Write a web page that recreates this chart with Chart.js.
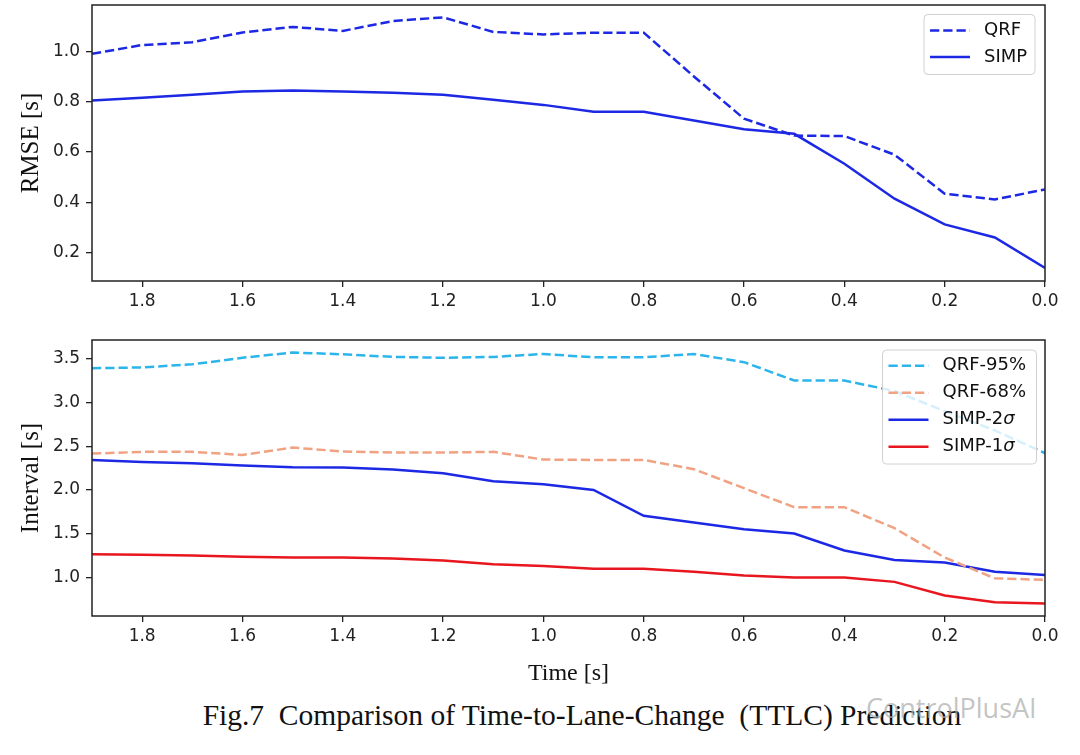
<!DOCTYPE html>
<html>
<head>
<meta charset="utf-8">
<script src="https://cdn.jsdelivr.net/npm/chart.js@4.4.1/dist/chart.umd.min.js"></script>
<style>
  body { margin: 0; background: #fff; }
  #pagina { position: relative; width: 1080px; height: 755px; background: #fff; overflow: hidden; }
  #grafico-rmse { position: absolute; left: 0; top: -12.5px; }
  #grafico-intervalo { position: absolute; left: 0; top: 320px; }
  #legenda-fig { position: absolute; left: 0; width: 1164px; top: 699px; text-align: center;
    font-family: "Liberation Serif", serif; font-size: 29.5px; color: #111; white-space: pre; }
  #marca { position: absolute; left: 866px; top: 689px; font-family: "Open Sans", sans-serif;
    font-size: 27px; color: rgba(170,170,170,0.7); }
</style>
</head>
<body>
<div id="pagina">
  <canvas id="grafico-rmse" width="1080" height="323"></canvas>
  <canvas id="grafico-intervalo" width="1080" height="368"></canvas>
  <div id="legenda-fig">Fig.7  Comparison of Time-to-Lane-Change  (TTLC) Prediction</div>
  <div id="marca">ControlPlusAI</div>
</div>
<script>
// eixo x (tempo), do maior para o menor
const tempos = [1.9, 1.8, 1.7, 1.6, 1.5, 1.4, 1.3, 1.2, 1.1, 1.0, 0.9, 0.8, 0.7, 0.6, 0.5, 0.4, 0.3, 0.2, 0.1, 0.0];
const ticksTempo = [1.8, 1.6, 1.4, 1.2, 1.0, 0.8, 0.6, 0.4, 0.2, 0.0];

// grafico de cima - RMSE
const rmseQRF = [0.99, 1.025, 1.036, 1.075, 1.097, 1.081, 1.12, 1.135, 1.077, 1.067, 1.074, 1.074, 0.90, 0.732, 0.665, 0.663, 0.589, 0.434, 0.411, 0.451];
const rmseSIMP = [0.804, 0.815, 0.827, 0.84, 0.844, 0.84, 0.835, 0.827, 0.807, 0.787, 0.76, 0.76, 0.725, 0.69, 0.672, 0.553, 0.414, 0.312, 0.26, 0.139];
const ticksRmse = [0.2, 0.4, 0.6, 0.8, 1.0];

// grafico de baixo - intervalos
const qrf95 = [3.39, 3.40, 3.435, 3.51, 3.57, 3.55, 3.52, 3.51, 3.52, 3.553, 3.515, 3.515, 3.553, 3.46, 3.25, 3.25, 3.13, 2.90, 2.68, 2.42];
const qrf68 = [2.415, 2.435, 2.435, 2.40, 2.484, 2.44, 2.427, 2.427, 2.435, 2.347, 2.343, 2.343, 2.237, 2.02, 1.803, 1.803, 1.563, 1.228, 0.99, 0.973];
const simp2 = [2.343, 2.32, 2.305, 2.278, 2.26, 2.256, 2.233, 2.19, 2.10, 2.065, 2.0, 1.704, 1.628, 1.552, 1.502, 1.308, 1.20, 1.171, 1.065, 1.027];
const simp1 = [1.266, 1.259, 1.25, 1.236, 1.228, 1.228, 1.217, 1.194, 1.152, 1.13, 1.10, 1.10, 1.065, 1.023, 1.0, 1.0, 0.95, 0.795, 0.718, 0.703];
const ticksIntervalo = [1.0, 1.5, 2.0, 2.5, 3.0, 3.5];

const AZUL = '#1c28e4';
const CIANO = '#2cb5ea';
const SALMAO = '#f0a283';
const VERMELHO = '#e8161e';
const TRACO = [9.25, 4];

function pontos(valores) {
  return valores.map((v, i) => ({ x: tempos[i], y: v }));
}

// moldura em volta da area do grafico
const moldura = {
  id: 'moldura',
  afterDatasetsDraw(chart) {
    const { ctx, chartArea: a } = chart;
    ctx.save();
    ctx.strokeStyle = '#222';
    ctx.lineWidth = 1.5;
    ctx.strokeRect(a.left, a.top, a.right - a.left, a.bottom - a.top);
    ctx.restore();
  }
};

// legenda no estilo do matplotlib
const legendaPropria = {
  id: 'legendaPropria',
  afterDatasetsDraw(chart, args, opts) {
    const { ctx, chartArea: a } = chart;
    const sets = chart.data.datasets;
    const x0 = a.right - opts.direita - opts.largura;
    const y0 = a.top + opts.topo;
    ctx.save();
    ctx.fillStyle = 'rgba(255,255,255,0.8)';
    ctx.strokeStyle = '#d0d0d0';
    ctx.lineWidth = 1;
    ctx.beginPath();
    ctx.roundRect(x0, y0, opts.largura, opts.altura, 4);
    ctx.fill();
    ctx.stroke();

    sets.forEach((ds, i) => {
      const y = y0 + opts.primeira + i * opts.passo;
      ctx.strokeStyle = ds.borderColor;
      ctx.lineWidth = ds.borderWidth;
      ctx.setLineDash(ds.borderDash || []);
      ctx.beginPath();
      ctx.moveTo(x0 + 6, y);
      ctx.lineTo(x0 + 46, y);
      ctx.stroke();
      ctx.setLineDash([]);

      ctx.fillStyle = '#111';
      ctx.textBaseline = 'middle';
      let texto = ds.label;
      let tx = x0 + 60;
      let italico = '';
      if (texto.endsWith('σ')) {
        italico = 'σ';
        texto = texto.slice(0, -1);
      }
      ctx.font = '18px "DejaVu Sans"';
      ctx.fillText(texto, tx, y);
      if (italico) {
        tx += ctx.measureText(texto).width;
        ctx.font = 'italic 18px "DejaVu Sans"';
        ctx.fillText(italico, tx, y);
      }
    });
    ctx.restore();
  }
};

function opcoesEixos(yMin, yMax, ticksY, tituloY, alturaX, tituloX) {
  const fonteTick = { family: 'DejaVu Sans', size: 17 };
  return {
    x: {
      type: 'linear',
      min: 0,
      max: 1.9,
      reverse: true,
      afterBuildTicks: s => { s.ticks = ticksTempo.map(v => ({ value: v })); },
      afterFit: s => { s.height = alturaX; },
      ticks: { color: '#222', font: fonteTick, padding: 4.5, maxRotation: 0, callback: v => v.toFixed(1) },
      grid: { drawOnChartArea: false, drawTicks: true, tickLength: 6, color: '#222', lineWidth: 1.3 },
      border: { display: false },
      title: {
        display: !!tituloX,
        text: tituloX || '',
        color: '#111',
        font: { family: 'Liberation Serif', size: 24 },
        padding: { top: 0, bottom: 0 }
      }
    },
    y: {
      type: 'linear',
      min: yMin,
      max: yMax,
      afterBuildTicks: s => { s.ticks = ticksY.map(v => ({ value: v })); },
      afterFit: s => { s.width = 92; },
      ticks: { color: '#222', font: fonteTick, padding: 6, callback: v => v.toFixed(1) },
      grid: { drawOnChartArea: false, drawTicks: true, tickLength: 6, color: '#222', lineWidth: 1.3 },
      border: { display: false },
      title: {
        display: true,
        text: tituloY,
        color: '#111',
        font: { family: 'Liberation Serif', size: 25 },
        padding: { top: 16.5, bottom: 0 }
      }
    }
  };
}

function linha(rotulo, valores, cor, tracejado) {
  return {
    label: rotulo,
    data: pontos(valores),
    borderColor: cor,
    borderWidth: 2.5,
    borderDash: tracejado ? TRACO : [],
    pointRadius: 0,
    tension: 0,
    fill: false
  };
}

function init() {
  new Chart(document.getElementById('grafico-rmse'), {
    type: 'line',
    data: {
      datasets: [
        linha('QRF', rmseQRF, AZUL, true),
        linha('SIMP', rmseSIMP, AZUL, false)
      ]
    },
    options: {
      responsive: false,
      animation: false,
      layout: { padding: { top: 17, right: 35, left: 0, bottom: 0 } },
      scales: opcoesEixos(0.087, 1.184, ticksRmse, 'RMSE [s]', 30, null),
      plugins: {
        legend: { display: false },
        tooltip: { enabled: false },
        legendaPropria: { largura: 111, altura: 60, direita: 10, topo: 9.5, primeira: 16, passo: 26.5 }
      }
    },
    plugins: [moldura, legendaPropria]
  });

  new Chart(document.getElementById('grafico-intervalo'), {
    type: 'line',
    data: {
      datasets: [
        linha('QRF-95%', qrf95, CIANO, true),
        linha('QRF-68%', qrf68, SALMAO, true),
        linha('SIMP-2σ', simp2, AZUL, false),
        linha('SIMP-1σ', simp1, VERMELHO, false)
      ]
    },
    options: {
      responsive: false,
      animation: false,
      layout: { padding: { top: 20, right: 35, left: 0, bottom: 0 } },
      scales: opcoesEixos(0.56, 3.713, ticksIntervalo, 'Interval [s]', 72, 'Time [s]'),
      plugins: {
        legend: { display: false },
        tooltip: { enabled: false },
        legendaPropria: { largura: 154, altura: 114, direita: 8.5, topo: 10, primeira: 15.7, passo: 27 }
      }
    },
    plugins: [moldura, legendaPropria]
  });
}

if (document.readyState === 'loading') {
  document.addEventListener('DOMContentLoaded', init);
} else {
  init();
}
</script>
</body>
</html>
